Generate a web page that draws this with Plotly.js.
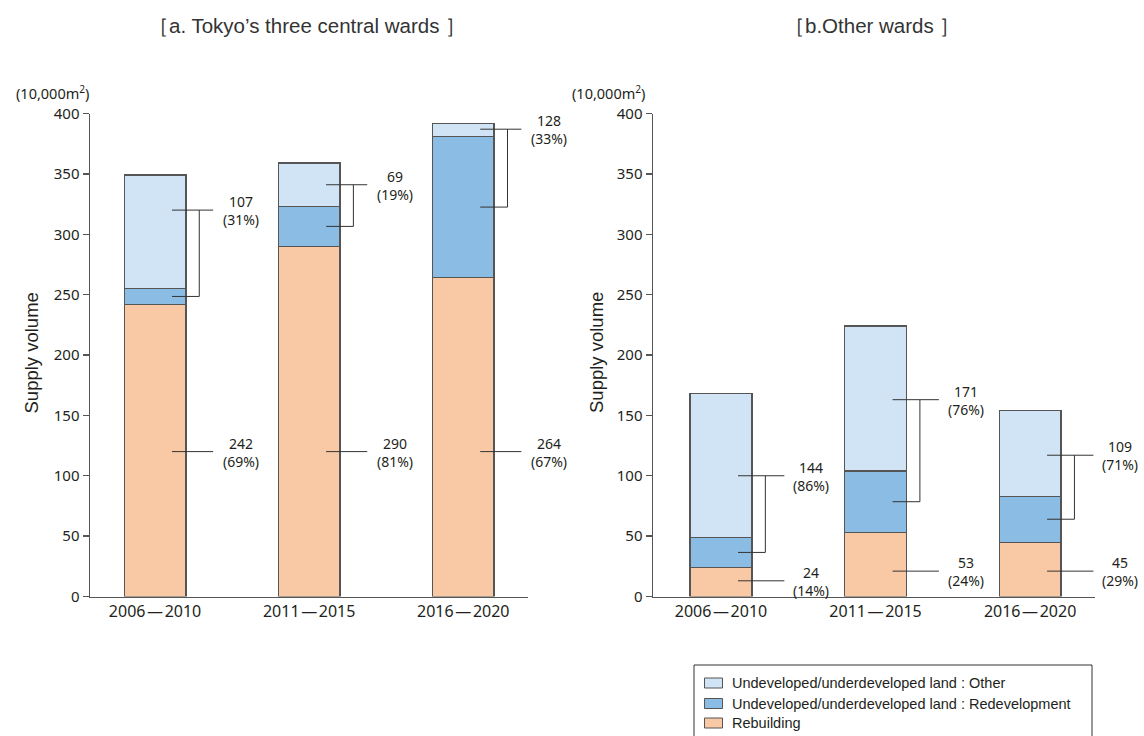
<!DOCTYPE html>
<html>
<head>
<meta charset="utf-8">
<script src="https://cdn.plot.ly/plotly-3.0.1.min.js"></script>
<style>html,body{margin:0;padding:0;background:#fff;}#chart{width:1144px;height:736px;}</style>
</head>
<body>
<div id="chart"></div>
<script>
// ---- data ----
const periods = ['2006\u200A—\u200A2010', '2011\u200A—\u200A2015', '2016\u200A—\u200A2020'];
const seriesNames = ['Rebuilding', 'Undeveloped/underdeveloped land : Redevelopment', 'Undeveloped/underdeveloped land : Other'];
// a. Tokyo's three central wards (10,000 m2)
const centralRebuilding = [242, 290, 264];
const centralRedevelopment = [13, 33, 117];
const centralOther = [94, 36, 11];
// b. Other wards
const otherRebuilding = [24, 53, 45];
const otherRedevelopment = [25, 51, 38];
const otherOther = [119, 120, 71];
const yTicks = [0, 50, 100, 150, 200, 250, 300, 350, 400];

// ---- layout helpers (label anchor levels, in axis units) ----
const bracketTopA = [320, 341, 387];
const rebuildLabelA = [120, 120, 120];
const bracketTopB = [100, 163, 117];
const rebuildLabelB = [13, 21, 21];

const colors = ['#f9c9a5', '#8bbce4', '#d0e4f5'];
const xIdx = periods.map((_, i) => i);

function bars(vals, name, color, xa, ya) {
  return {
    type: 'bar', x: xIdx, y: vals, name: name, xaxis: xa, yaxis: ya,
    width: 0.4, showlegend: false,
    marker: {color: color, line: {color: '#555', width: 1.3}},
    hoverinfo: 'y'
  };
}

const traces = [
  bars(centralRebuilding, seriesNames[0], colors[0], 'x', 'y'),
  bars(centralRedevelopment, seriesNames[1], colors[1], 'x', 'y'),
  bars(centralOther, seriesNames[2], colors[2], 'x', 'y'),
  bars(otherRebuilding, seriesNames[0], colors[0], 'x2', 'y2'),
  bars(otherRedevelopment, seriesNames[1], colors[1], 'x2', 'y2'),
  bars(otherOther, seriesNames[2], colors[2], 'x2', 'y2')
];

const shapes = [];
const annotations = [];
const lineStyle = {color: '#333', width: 1};
const numFont = {family: 'Noto Sans, Open Sans, sans-serif', size: 14, color: '#231f20'};

function label(xr, yr, xi, yv, shift, top, bottom) {
  annotations.push({xref: xr, yref: yr, x: xi, y: yv, xshift: shift, yshift: -0.5, showarrow: false,
    text: top + '<br>' + bottom, font: numFont, xanchor: 'center', yanchor: 'middle', align: 'center'});
}

function addPanel(reb, red, oth, tops, rebLevels, xr, yr, lineEnd, textShift) {
  for (let i = 0; i < reb.length; i++) {
    const total = reb[i] + red[i] + oth[i];
    const und = red[i] + oth[i];
    const bottom = reb[i] + red[i] / 2;
    const x0 = i + 0.11, xv = i + 0.287, x1 = i + lineEnd;
    shapes.push({type: 'line', xref: xr, yref: yr, x0: x0, x1: x1, y0: tops[i], y1: tops[i], line: lineStyle});
    shapes.push({type: 'line', xref: xr, yref: yr, x0: xv, x1: xv, y0: tops[i], y1: bottom, line: lineStyle});
    shapes.push({type: 'line', xref: xr, yref: yr, x0: x0, x1: xv, y0: bottom, y1: bottom, line: lineStyle});
    shapes.push({type: 'line', xref: xr, yref: yr, x0: x0, x1: x1, y0: rebLevels[i], y1: rebLevels[i], line: lineStyle});
    label(xr, yr, i, tops[i], textShift, String(und), '(' + Math.round(und / total * 100) + '%)');
    label(xr, yr, i, rebLevels[i], textShift, String(reb[i]), '(' + Math.round(reb[i] / total * 100) + '%)');
  }
}
addPanel(centralRebuilding, centralRedevelopment, centralOther, bracketTopA, rebuildLabelA, 'x', 'y', 0.377, 86);
addPanel(otherRebuilding, otherRedevelopment, otherOther, bracketTopB, rebuildLabelB, 'x2', 'y2', 0.41, 90);

const titleFont = {family: 'Liberation Sans, Arial, sans-serif', size: 20.5, color: '#333'};
const axTitleFont = {family: 'Liberation Sans, Arial, sans-serif', size: 18.5, color: '#231f20'};
const unitFont = {family: 'Noto Sans, Open Sans, sans-serif', size: 14.5, color: '#231f20'};
const px = v => v / 1144, py = v => 1 - v / 736;
annotations.push(
  {xref: 'paper', yref: 'paper', x: px(307), y: py(26), text: '［a. Tokyo’s three central wards ］', showarrow: false, font: titleFont, xanchor: 'center', yanchor: 'middle'},
  {xref: 'paper', yref: 'paper', x: px(872), y: py(26), text: '［b.Other wards ］', showarrow: false, font: titleFont, xanchor: 'center', yanchor: 'middle'},
  {xref: 'paper', yref: 'paper', x: px(52), y: py(92), text: '(10,000m<sup>2</sup>)', showarrow: false, font: unitFont, xanchor: 'center', yanchor: 'middle'},
  {xref: 'paper', yref: 'paper', x: px(608), y: py(92), text: '(10,000m<sup>2</sup>)', showarrow: false, font: unitFont, xanchor: 'center', yanchor: 'middle'},
  {xref: 'paper', yref: 'paper', x: px(30.5), y: py(353), text: 'Supply volume', showarrow: false, font: axTitleFont, textangle: -90, xanchor: 'center', yanchor: 'middle'},
  {xref: 'paper', yref: 'paper', x: px(596), y: py(353), text: 'Supply volume', showarrow: false, font: axTitleFont, textangle: -90, xanchor: 'center', yanchor: 'middle'}
);

// legend (frame runs past the bottom edge, as in the reference)
shapes.push({type: 'rect', xref: 'paper', yref: 'paper', x0: px(694), x1: px(1092), y0: py(750), y1: py(665),
  line: {color: '#333', width: 1}, fillcolor: '#fff', layer: 'below'});
const legendOrder = [2, 1, 0];
const legendRows = [683, 703.5, 723];
const legendFont = {family: 'Liberation Sans, Arial, sans-serif', size: 14.5, color: '#231f20'};
legendOrder.forEach((s, r) => {
  shapes.push({type: 'rect', xref: 'paper', yref: 'paper', x0: px(704.5), x1: px(722.5), y0: py(legendRows[r] + 5), y1: py(legendRows[r] - 5),
    line: {color: '#555', width: 1}, fillcolor: colors[s], layer: 'above'});
  annotations.push({xref: 'paper', yref: 'paper', x: px(730), y: py(legendRows[r]), text: seriesNames[s], showarrow: false,
    font: legendFont, xanchor: 'left', yanchor: 'middle'});
});

const yTickFont = {family: 'Noto Sans, Open Sans, sans-serif', size: 15, color: '#231f20'};
const xTickFont = {family: 'Noto Sans, Open Sans, sans-serif', size: 16, color: '#231f20'};
function xAxis(domain, range, anchor) {
  return {domain: domain, range: range, anchor: anchor, tickmode: 'array', tickvals: xIdx, ticktext: periods,
    showgrid: false, zeroline: false, showline: true, linecolor: '#555', linewidth: 1.5, ticks: '',
    tickfont: xTickFont, fixedrange: true};
}
function yAxis(anchor) {
  return {domain: [py(596.5), py(113.5)], range: [0, 400], anchor: anchor, tickmode: 'array', tickvals: yTicks,
    showgrid: false, zeroline: false, showline: true, linecolor: '#555', linewidth: 1.5, ticks: 'outside', ticklen: 6,
    tickcolor: '#555', tickwidth: 1.3, tickfont: yTickFont, fixedrange: true};
}

const layout = {
  width: 1144, height: 736,
  margin: {l: 0, r: 0, t: 0, b: 0},
  paper_bgcolor: '#fff', plot_bgcolor: 'rgba(0,0,0,0)',
  barmode: 'stack',
  xaxis: xAxis([px(90), px(528)], [-0.422, 2.42], 'y'),
  yaxis: yAxis('x'),
  xaxis2: xAxis([px(653), px(1095)], [-0.44, 2.42], 'y2'),
  yaxis2: yAxis('x2'),
  shapes: shapes,
  annotations: annotations,
  showlegend: false
};

Plotly.newPlot('chart', traces, layout, {displayModeBar: false, staticPlot: true});
</script>
</body>
</html>
